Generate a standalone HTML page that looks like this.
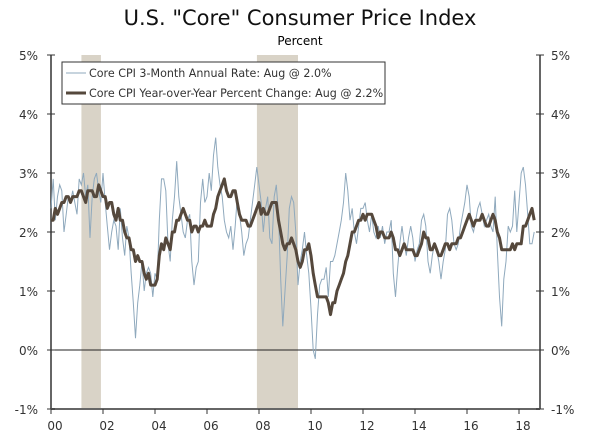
<!DOCTYPE html>
<html><head><meta charset="utf-8"><style>
body{margin:0;background:#fff;}
svg{display:block;font-family:"DejaVu Sans","Liberation Sans",sans-serif;}
</style></head><body>
<svg id="c" width="600" height="439" viewBox="0 0 600 439">
<text x="300" y="25" text-anchor="middle" font-size="21" fill="#111">U.S. "Core" Consumer Price Index</text>
<text x="300" y="45" text-anchor="middle" font-size="12" fill="#000">Percent</text>
<g id="rec"></g><g id="axes"></g><g id="lines"></g>
<g>
<rect x="62" y="62" width="323" height="42" fill="#fff" stroke="#333" stroke-width="1"/>
<line x1="66" y1="73" x2="86" y2="73" stroke="#8fa9bd" stroke-width="1"/>
<text x="89" y="77" font-size="11.1" fill="#333">Core CPI 3-Month Annual Rate: Aug @ 2.0%</text>
<line x1="66" y1="93" x2="86" y2="93" stroke="#55483c" stroke-width="3"/>
<text x="89" y="97" font-size="11.1" fill="#333">Core CPI Year-over-Year Percent Change: Aug @ 2.2%</text>
</g>
</svg>
<script>
const yTicks=[-1,0,1,2,3,4,5];
const xTickYears=[2000,2002,2004,2006,2008,2010,2012,2014,2016,2018];
const xTickLabels=["00","02","04","06","08","10","12","14","16","18"];
const recessions=[[2001.17,2001.92],[2007.92,2009.5]];
const startYear=2000;
const yoy=[2.2,2.2,2.4,2.3,2.4,2.5,2.5,2.6,2.6,2.5,2.6,2.6,
2.6,2.7,2.7,2.6,2.5,2.7,2.7,2.7,2.6,2.6,2.8,2.7,
2.6,2.6,2.4,2.5,2.5,2.3,2.2,2.4,2.2,2.2,2.0,1.9,
1.9,1.7,1.7,1.5,1.6,1.5,1.5,1.3,1.2,1.3,1.1,1.1,
1.1,1.2,1.6,1.8,1.7,1.9,1.8,1.7,2.0,2.0,2.2,2.2,
2.3,2.4,2.3,2.2,2.2,2.0,2.1,2.1,2.0,2.1,2.1,2.2,
2.1,2.1,2.1,2.3,2.4,2.6,2.7,2.8,2.9,2.7,2.6,2.6,
2.7,2.7,2.5,2.3,2.2,2.2,2.2,2.1,2.1,2.2,2.3,2.4,
2.5,2.3,2.4,2.3,2.3,2.4,2.5,2.5,2.5,2.2,2.0,1.8,
1.7,1.8,1.8,1.9,1.8,1.7,1.5,1.4,1.5,1.7,1.7,1.8,
1.6,1.3,1.1,0.9,0.9,0.9,0.9,0.9,0.8,0.6,0.8,0.8,
1.0,1.1,1.2,1.3,1.5,1.6,1.8,2.0,2.0,2.1,2.2,2.2,
2.3,2.2,2.3,2.3,2.3,2.2,2.1,1.9,2.0,2.0,1.9,1.9,
1.9,2.0,1.9,1.7,1.7,1.6,1.7,1.8,1.7,1.7,1.7,1.7,
1.6,1.6,1.7,1.8,2.0,1.9,1.9,1.7,1.7,1.8,1.7,1.6,
1.6,1.7,1.8,1.8,1.7,1.8,1.8,1.8,1.9,1.9,2.0,2.1,
2.2,2.3,2.2,2.1,2.2,2.2,2.2,2.3,2.2,2.1,2.1,2.2,
2.3,2.2,2.0,1.9,1.7,1.7,1.7,1.7,1.7,1.8,1.7,1.8,
1.8,1.8,2.1,2.1,2.2,2.3,2.4,2.2];
const threeMonth=[2.4,2.9,2.2,2.6,2.8,2.7,2.0,2.3,2.6,2.5,2.7,2.5,
2.3,2.9,2.8,3.0,2.6,2.8,1.9,2.6,2.9,3.0,2.7,2.5,
3.0,2.5,2.1,1.7,2.0,2.2,2.1,1.7,2.4,1.9,1.6,2.1,
1.9,1.3,0.8,0.2,0.8,1.1,1.5,1.0,1.3,1.4,1.3,0.9,
1.3,1.2,2.2,2.9,2.9,2.7,1.8,1.5,2.2,2.6,3.2,2.6,
2.3,2.0,1.9,2.2,2.3,1.5,1.1,1.4,1.5,2.5,2.9,2.5,
2.6,3.0,2.7,3.3,3.6,3.1,2.8,2.6,2.2,2.0,1.9,2.1,
1.7,2.1,2.6,2.3,2.0,1.6,1.8,1.9,2.2,2.5,2.8,3.1,
2.8,2.5,2.0,2.4,2.6,1.9,1.8,2.6,2.8,2.3,1.2,0.4,
1.0,1.6,2.4,2.6,2.5,2.0,1.1,1.5,1.7,2.0,1.6,1.3,
0.7,0.0,-0.15,0.6,1.1,1.2,1.2,1.4,0.9,1.5,1.5,1.6,
1.8,2.0,2.2,2.5,3.0,2.7,2.2,2.4,2.0,1.8,2.1,2.4,
2.4,2.5,2.2,2.0,2.3,2.0,1.9,2.1,1.9,2.1,1.8,2.0,
2.0,2.2,1.3,0.9,1.4,1.8,2.1,1.8,1.6,1.9,2.1,1.9,
1.5,1.7,1.8,2.2,2.3,2.1,1.5,1.3,1.6,1.8,1.7,1.5,
1.2,1.5,1.7,2.3,2.4,2.2,1.8,1.7,1.8,2.1,2.3,2.5,
2.8,2.6,2.1,2.0,2.2,2.4,2.5,2.3,2.1,2.2,2.3,2.1,
2.0,2.6,1.7,0.9,0.4,1.2,1.5,2.1,2.0,2.1,2.7,2.0,
2.5,3.0,3.1,2.8,2.3,1.8,1.8,2.0];

const NS="http://www.w3.org/2000/svg";
const L=51,R=540,T=55,B=409;
const xS=t=>L+(t-2000)*26.0;
const yS=v=>350-v*59;
function mk(tag,attrs,parent){const e=document.createElementNS(NS,tag);for(const k in attrs)e.setAttribute(k,attrs[k]);document.getElementById(parent).appendChild(e);return e;}

recessions.forEach((r,i)=>{
 const e=mk('rect',{x:xS(r[0]),y:T,width:xS(r[1])-xS(r[0]),height:B-T,fill:'#d9d3c7'},'rec');
 
 
});
let e;
e=mk('line',{x1:L,y1:T,x2:L,y2:B,stroke:'#666','stroke-width':2},'axes');


e=mk('line',{x1:R,y1:T,x2:R,y2:B,stroke:'#666','stroke-width':2},'axes');


e=mk('line',{x1:L,y1:B,x2:R,y2:B,stroke:'#666','stroke-width':2},'axes');


e=mk('line',{x1:L,y1:yS(0),x2:R,y2:yS(0),stroke:'#222','stroke-width':1},'axes');


yTicks.forEach(v=>{
 const y=yS(v);
 e=mk('line',{x1:L-4,y1:y,x2:L+4,y2:y,stroke:'#333'},'axes');
 
 
 e=mk('line',{x1:R-4,y1:y,x2:R+4,y2:y,stroke:'#333'},'axes');
 
 
 e=mk('text',{x:38,y:y+5,'text-anchor':'end','font-size':12,fill:'#333'},'axes');
 e.textContent=v+'%';
 
 
 e=mk('text',{x:551,y:y+5,'font-size':12,fill:'#333'},'axes');
 e.textContent=v+'%';
 
 
});
xTickYears.forEach((yr,i)=>{
 const x=xS(yr);
 e=mk('line',{x1:x,y1:B,x2:x,y2:B+5,stroke:'#333'},'axes');
 
 
 e=mk('text',{x:x+4,y:430,'text-anchor':'middle','font-size':12,fill:'#333'},'axes');
 e.textContent=xTickLabels[i];
 
 
});
function path(arr){return arr.map((v,i)=>(i?'L':'M')+xS(startYear+i/12).toFixed(1)+','+yS(v).toFixed(1)).join('');}
e=mk('path',{d:path(threeMonth),fill:'none',stroke:'#8fa9bd','stroke-width':1},'lines');


e=mk('path',{d:path(yoy),fill:'none',stroke:'#55483c','stroke-width':3,'stroke-linejoin':'round'},'lines');


</script>
</body></html>
